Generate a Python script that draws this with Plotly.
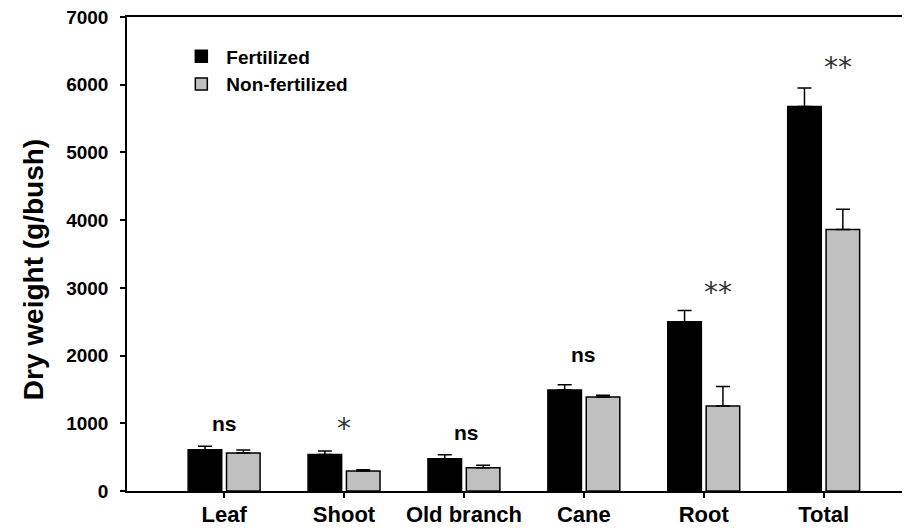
import plotly.graph_objects as go

categories = ["Leaf", "Shoot", "Old branch", "Cane", "Root", "Total"]
fertilized = [610, 540, 475, 1490, 2500, 5680]
fertilized_err = [50, 50, 60, 80, 165, 270]
nonfertilized = [560, 295, 345, 1390, 1255, 3860]
nonfertilized_err = [45, 20, 35, 25, 290, 300]
sig_labels = ["ns", "*", "ns", "ns", "**", "**"]
sig_y = [1000, 1000, 870, 2010, 2970, 6300]
sig_dx = [0, 0, 0.02, 0, 0.12, 0.12]

xs = list(range(len(categories)))
FONT = "Liberation Sans, Arial, sans-serif"

fig = go.Figure()
fig.add_trace(go.Bar(
    x=xs, y=fertilized, name="Fertilized",
    width=0.28, offset=-0.3,
    marker=dict(color="black", line=dict(color="black", width=1.5)),
    error_y=dict(type="data", symmetric=False, array=fertilized_err,
                 arrayminus=[0]*6, color="black", thickness=1.5, width=7),
))
fig.add_trace(go.Bar(
    x=xs, y=nonfertilized, name="Non-fertilized",
    width=0.28, offset=0.02,
    marker=dict(color="#c0c0c0", line=dict(color="black", width=1.5)),
    error_y=dict(type="data", symmetric=False, array=nonfertilized_err,
                 arrayminus=[0]*6, color="black", thickness=1.5, width=7),
))

for i, (lab, yy, dx) in enumerate(zip(sig_labels, sig_y, sig_dx)):
    is_star = "*" in lab
    fig.add_annotation(
        x=i + dx, y=yy, text=lab,
        showarrow=False, xanchor="center", yanchor="middle",
        yshift=-5 if (is_star and i == 1) else (-3 if is_star else 0),
        font=dict(family="DejaVu Sans, sans-serif" if is_star else FONT,
                  size=28 if is_star else 21,
                  color="#333" if is_star else "black",
                  weight="normal" if is_star else "bold"),
    )

# y-axis title as rotated annotation (positioned like the reference)
fig.add_annotation(
    x=-0.12, y=0.466, xref="paper", yref="paper",
    text="Dry weight (g/bush)", textangle=-90, showarrow=False,
    xanchor="center", yanchor="middle",
    font=dict(size=28, weight="bold", family=FONT, color="black"),
)

# The page body has an 8px margin; size the figure so the plot lands where the reference's does.
fig.update_layout(
    width=902, height=520,
    margin=dict(l=119, r=0, t=9, b=37),
    paper_bgcolor="white", plot_bgcolor="white",
    font=dict(family=FONT, color="black"),
    barmode="overlay",
    showlegend=True,
    legend=dict(x=0.063, y=0.957, xanchor="left", yanchor="top",
                bgcolor="rgba(0,0,0,0)", font=dict(size=19, weight="bold"),
                tracegroupgap=0, itemwidth=40),
    xaxis=dict(
        range=[-0.81, 5.72], tickmode="array", tickvals=xs, ticktext=categories,
        showline=True, linecolor="black", linewidth=1.5, mirror=True,
        ticks="outside", ticklen=5, tickwidth=1.5, tickcolor="black",
        showgrid=False, zeroline=False, automargin=False,
        ticklabeloverflow="allow", ticklabelstandoff=-2,
        tickfont=dict(size=22, weight="bold", family=FONT),
    ),
    yaxis=dict(
        range=[0, 7000], dtick=1000, tickformat="d",
        showline=True, linecolor="black", linewidth=1.5,
        ticks="outside", ticklen=5, tickwidth=1.5, tickcolor="black",
        showgrid=False, zeroline=False, automargin=False,
        ticklabelstandoff=8, ticklabeloverflow="allow",
        tickfont=dict(size=19, weight="bold", family=FONT),
    ),
)

fig.write_html("out.html")
